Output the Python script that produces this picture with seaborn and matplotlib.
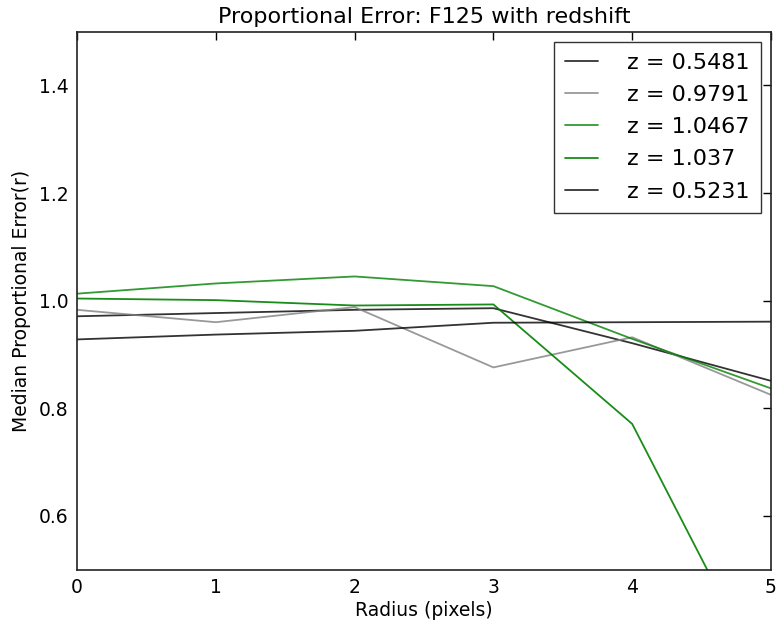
import numpy as np
import pandas as pd
import matplotlib
matplotlib.use('Agg')
import matplotlib.pyplot as plt
import seaborn as sns

# radius values (pixels)
radius = [0, 1, 2, 3, 4, 5]

# median proportional error per redshift
err_z05481 = [0.971, 0.977, 0.983, 0.986, 0.921, 0.851]
err_z09791 = [0.983, 0.960, 0.988, 0.876, 0.932, 0.825]
err_z10467 = [1.013, 1.032, 1.045, 1.027, 0.929, 0.837]
err_z1037 = [1.004, 1.001, 0.991, 0.993, 0.771, 0.270]
err_z05231 = [0.928, 0.937, 0.944, 0.959, 0.960, 0.961]

labels = ['z = 0.5481', 'z = 0.9791', 'z = 1.0467', 'z = 1.037', 'z = 0.5231']
series = [err_z05481, err_z09791, err_z10467, err_z1037, err_z05231]
colors = ['black', 'gray', 'green', 'green', 'black']
alphas = [0.8, 0.8, 0.8, 0.9, 0.8]

rows = []
for lab, vals in zip(labels, series):
    for r, v in zip(radius, vals):
        rows.append({'radius': r, 'err': v, 'z': lab})
df = pd.DataFrame(rows)

sns.set_style('white')
plt.rcParams['font.family'] = ['DejaVu Sans']
plt.rcParams['text.color'] = 'black'
plt.rcParams['axes.labelcolor'] = 'black'

fig = plt.figure(figsize=(7.78, 6.31), dpi=100)
ax = fig.add_axes([0.099, 0.097, 0.892, 0.853])

for lab, col, a in zip(labels, colors, alphas):
    sns.lineplot(data=df[df['z'] == lab], x='radius', y='err', color=col,
                 alpha=a, linewidth=1.3, label=lab, ax=ax)

ax.set_xlim(0, 5)
ax.set_ylim(0.5, 1.5)
ax.set_xticks([0, 1, 2, 3, 4, 5])
ax.set_yticks([0.6, 0.8, 1.0, 1.2, 1.4])
ax.tick_params(direction='in', top=True, right=True, length=6, width=1,
               labelsize=13.5, colors='black', pad=6)
for s in ax.spines.values():
    s.set_color('#222222')
    s.set_linewidth(1.2)

ax.set_title('Proportional Error: F125 with redshift', fontsize=16, pad=6)
ax.set_xlabel('Radius (pixels)', fontsize=13.5, labelpad=3)
ax.set_ylabel('Median Proportional Error(r)', fontsize=13.5, labelpad=6)

leg = ax.legend(loc='upper right', fontsize=16, frameon=True, fancybox=False,
                handlelength=1.5, handletextpad=1.3, borderpad=0.5,
                labelspacing=0.55, borderaxespad=0.45)
leg.get_frame().set_edgecolor('black')
leg.get_frame().set_linewidth(1.0)

fig.savefig('out.png', dpi=100)
